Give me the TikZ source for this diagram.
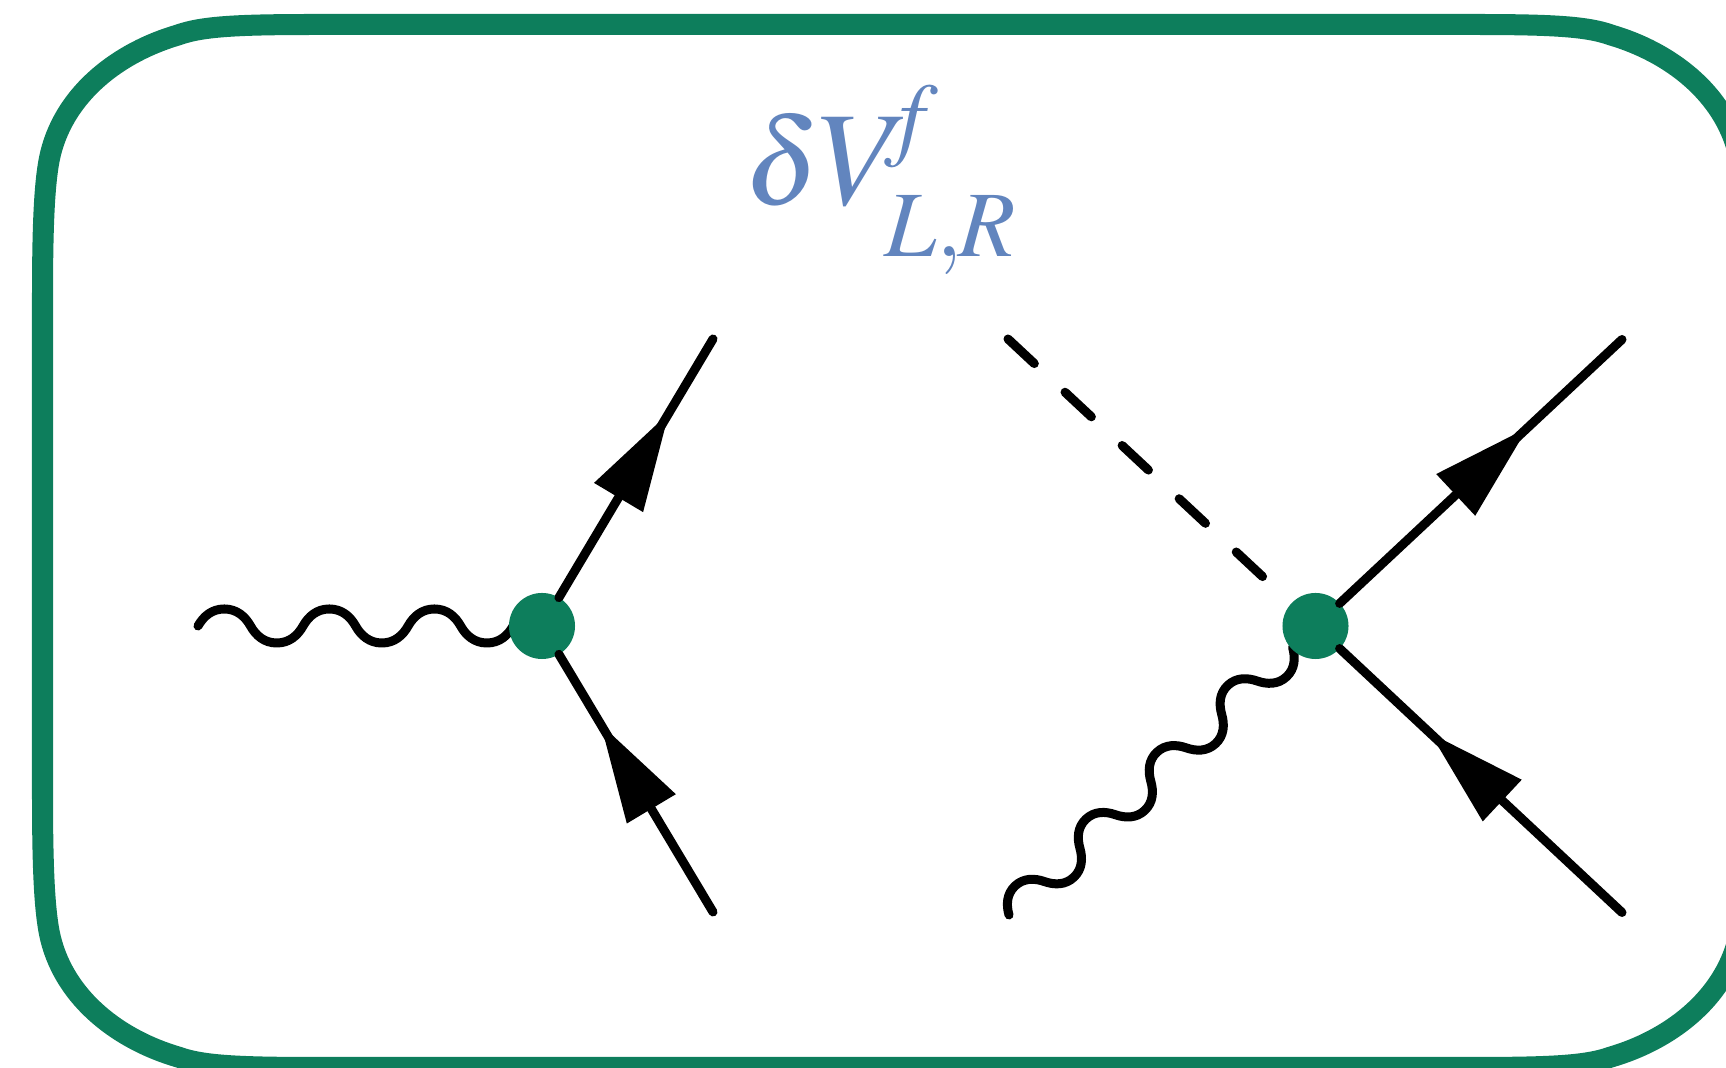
\documentclass[tikz,border=0pt]{standalone}
\usepackage{mathptmx}
\usepackage{xcolor}
\usetikzlibrary{arrows.meta,decorations.markings}
\definecolor{framegreen}{RGB}{13,126,92}
\definecolor{labelblue}{RGB}{98,133,190}
% one full period of a rounded wave
\pgfdeclaredecoration{wave}{period}{
  \state{period}[width=\pgfdecorationsegmentlength]{
    \pgfpathcurveto{\pgfqpoint{.05\pgfdecorationsegmentlength}{.55\pgfdecorationsegmentamplitude}}
      {\pgfqpoint{.13\pgfdecorationsegmentlength}{\pgfdecorationsegmentamplitude}}
      {\pgfqpoint{.25\pgfdecorationsegmentlength}{\pgfdecorationsegmentamplitude}}
    \pgfpathcurveto{\pgfqpoint{.37\pgfdecorationsegmentlength}{\pgfdecorationsegmentamplitude}}
      {\pgfqpoint{.45\pgfdecorationsegmentlength}{.55\pgfdecorationsegmentamplitude}}
      {\pgfqpoint{.5\pgfdecorationsegmentlength}{0pt}}
    \pgfpathcurveto{\pgfqpoint{.55\pgfdecorationsegmentlength}{-.55\pgfdecorationsegmentamplitude}}
      {\pgfqpoint{.63\pgfdecorationsegmentlength}{-\pgfdecorationsegmentamplitude}}
      {\pgfqpoint{.75\pgfdecorationsegmentlength}{-\pgfdecorationsegmentamplitude}}
    \pgfpathcurveto{\pgfqpoint{.87\pgfdecorationsegmentlength}{-\pgfdecorationsegmentamplitude}}
      {\pgfqpoint{.95\pgfdecorationsegmentlength}{-.55\pgfdecorationsegmentamplitude}}
      {\pgfqpoint{\pgfdecorationsegmentlength}{0pt}}
  }
  \state{final}{\pgfpathlineto{\pgfpointdecoratedpathlast}}
}
\tikzset{
  vertex/.style={circle,fill=framegreen,minimum size=0.66cm,inner sep=0pt,outer sep=0pt},
  line/.style={line width=0.09cm,line cap=round,line join=round},
  fermion/.style={line,postaction={decorate,decoration={markings,
    mark=at position #1 with {\arrow{Triangle[length=0.99cm,width=0.545cm,sep=0pt]}}}}},
  scalar/.style={line,dash pattern=on 0.36cm off 0.42cm},
  photon/.style={line,decorate,decoration={wave,amplitude=0.17cm,segment length=#1}}
}

\begin{document}
\begin{tikzpicture}[x=0.01cm,y=-0.01cm]
  \clip[use as bounding box] (0,0) rectangle (1726,1068);
  % frame, it runs over the right edge of the picture
  \draw[framegreen,line width=0.21cm] (42.5,300) .. controls (42.5,230) and (44,180) .. (50.7,153)
    .. controls (66,92) and (120,52) .. (178,35) .. controls (203,26) and (240,24.5) .. (320,24.5)
    -- (1469,24.5) .. controls (1549,24.5) and (1586,26) .. (1611,35)
    .. controls (1669,52) and (1723,92) .. (1738.3,153) .. controls (1745,180) and (1746.5,230) .. (1746.5,300)
    -- (1746.5,792) .. controls (1746.5,862) and (1745,912) .. (1738.3,939)
    .. controls (1723,1000) and (1669,1040) .. (1611,1057) .. controls (1586,1066) and (1549,1067.5) .. (1469,1067.5)
    -- (320,1067.5) .. controls (240,1067.5) and (203,1066) .. (178,1057)
    .. controls (120,1040) and (66,1000) .. (50.7,939) .. controls (44,912) and (42.5,862) .. (42.5,792) -- cycle;
  \node[text=labelblue,anchor=base west,inner sep=0pt,font=\fontsize{38}{40}\selectfont] (lbl) at (744,205)
    {{\fontsize{35}{40}\selectfont$\delta$}\kern-.6pt$V$\kern-7.5pt\rlap{\raisebox{-14.7pt}{\fontsize{26.6}{28}\selectfont$L{,}\kern-1.2pt R$}}\kern.2pt\raisebox{16pt}{\fontsize{26.6}{28}\selectfont$f$}};
  % ---------- left: gauge boson and fermion pair ----------
  \coordinate (lw) at (198,626);
  \coordinate (lwend) at (518,626);
  \draw[photon=1.05cm] (lw) -- (lwend);
  \node[vertex] (vl) at (542,626) {};
  \coordinate (lt) at (713,339);
  \coordinate (lb) at (713,912);
  \draw[fermion=0.7176] (vl) -- (lt);
  \draw[fermion=0.731] (lb) -- (vl);
  % ---------- right: scalar, gauge boson and fermion pair ----------
  \coordinate (rw) at (1009,915);
  \coordinate (rwend) at (1297,643.5);
  \draw[photon=0.974cm] (rw) -- (rwend);
  \node[vertex] (vr) at (1315.5,626) {};
  \coordinate (rs) at (1008,339);
  \coordinate (rt) at (1622,339.5);
  \coordinate (rb) at (1622,912.5);
  \draw[scalar] (rs) -- (vr);
  \draw[fermion=0.669] (vr) -- (rt);
  \draw[fermion=0.682] (rb) -- (vr);
\end{tikzpicture}
\end{document}
